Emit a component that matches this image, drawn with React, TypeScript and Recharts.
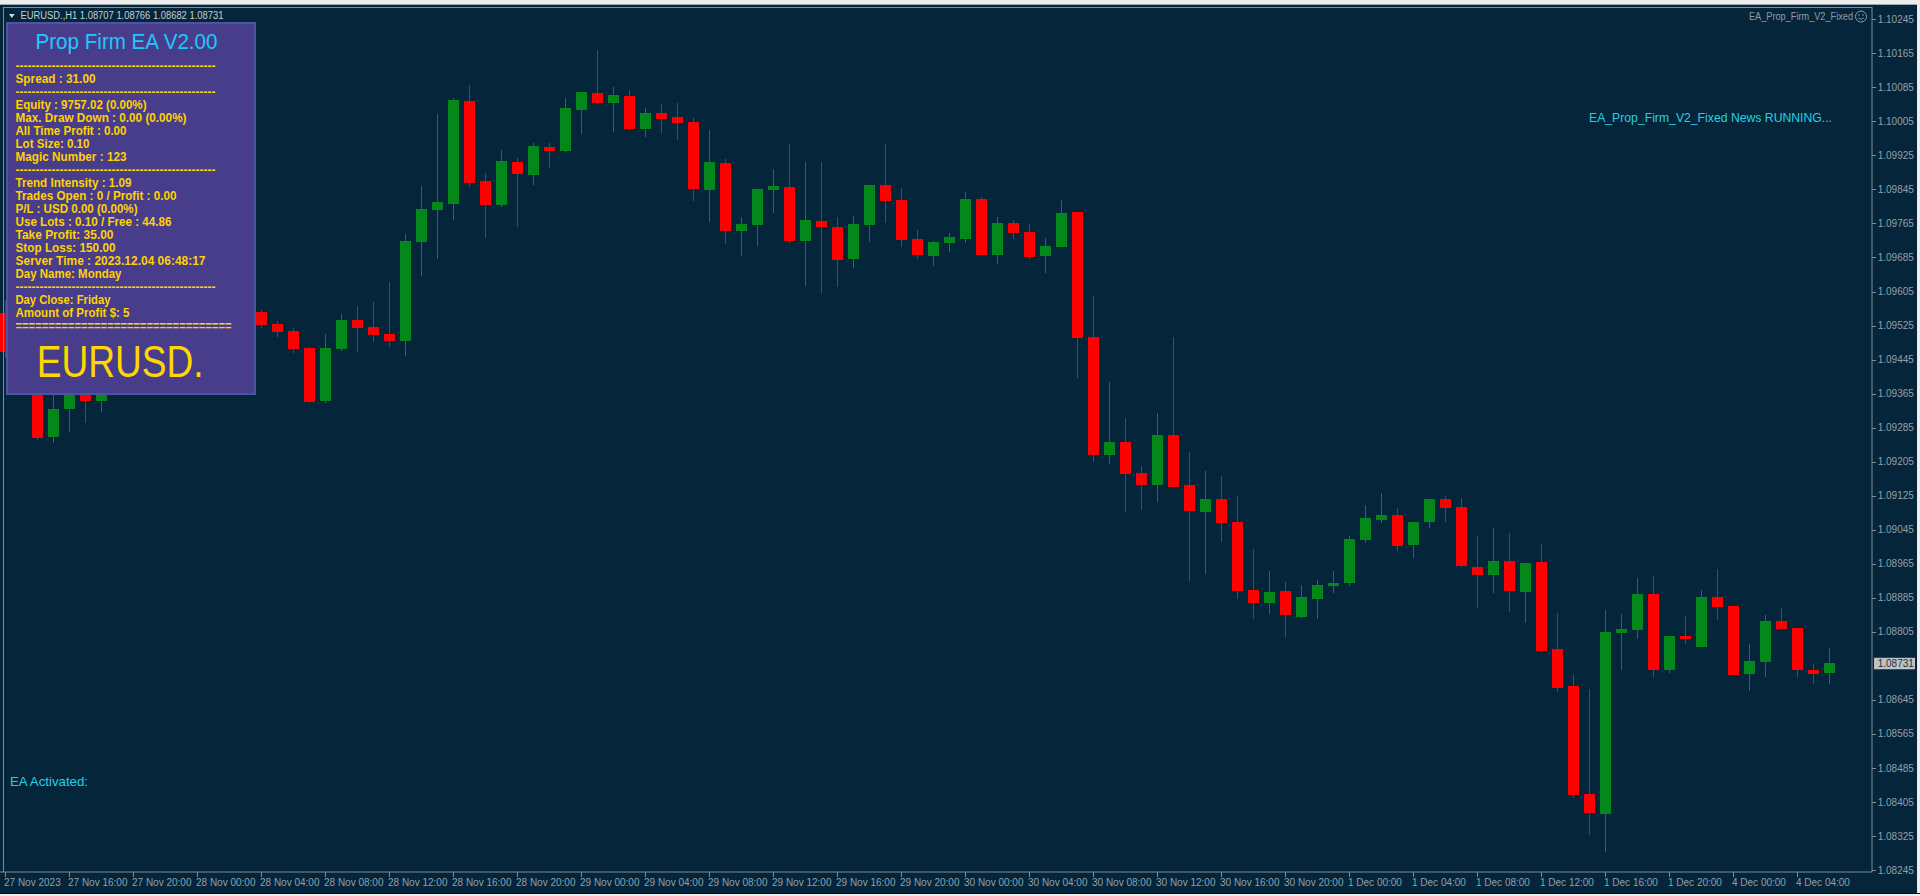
import React from "react";
import { ComposedChart, Bar, XAxis, YAxis, ReferenceLine } from "recharts";

// ---------- data ----------
const times = [
  "27 Nov 12:00", "27 Nov 13:00", "27 Nov 14:00", "27 Nov 15:00", "27 Nov 16:00", "27 Nov 17:00", "27 Nov 18:00", "27 Nov 19:00",
  "27 Nov 20:00", "27 Nov 21:00", "27 Nov 22:00", "27 Nov 23:00",
  "28 Nov 00:00", "28 Nov 01:00", "28 Nov 02:00", "28 Nov 03:00", "28 Nov 04:00", "28 Nov 05:00", "28 Nov 06:00", "28 Nov 07:00",
  "28 Nov 08:00", "28 Nov 09:00", "28 Nov 10:00", "28 Nov 11:00", "28 Nov 12:00", "28 Nov 13:00", "28 Nov 14:00", "28 Nov 15:00",
  "28 Nov 16:00", "28 Nov 17:00", "28 Nov 18:00", "28 Nov 19:00", "28 Nov 20:00", "28 Nov 21:00", "28 Nov 22:00", "28 Nov 23:00",
  "29 Nov 00:00", "29 Nov 01:00", "29 Nov 02:00", "29 Nov 03:00", "29 Nov 04:00", "29 Nov 05:00", "29 Nov 06:00", "29 Nov 07:00",
  "29 Nov 08:00", "29 Nov 09:00", "29 Nov 10:00", "29 Nov 11:00", "29 Nov 12:00", "29 Nov 13:00", "29 Nov 14:00", "29 Nov 15:00",
  "29 Nov 16:00", "29 Nov 17:00", "29 Nov 18:00", "29 Nov 19:00", "29 Nov 20:00", "29 Nov 21:00", "29 Nov 22:00", "29 Nov 23:00",
  "30 Nov 00:00", "30 Nov 01:00", "30 Nov 02:00", "30 Nov 03:00", "30 Nov 04:00", "30 Nov 05:00", "30 Nov 06:00", "30 Nov 07:00",
  "30 Nov 08:00", "30 Nov 09:00", "30 Nov 10:00", "30 Nov 11:00", "30 Nov 12:00", "30 Nov 13:00", "30 Nov 14:00", "30 Nov 15:00",
  "30 Nov 16:00", "30 Nov 17:00", "30 Nov 18:00", "30 Nov 19:00", "30 Nov 20:00", "30 Nov 21:00", "30 Nov 22:00", "30 Nov 23:00",
  "1 Dec 00:00", "1 Dec 01:00", "1 Dec 02:00", "1 Dec 03:00", "1 Dec 04:00", "1 Dec 05:00", "1 Dec 06:00", "1 Dec 07:00",
  "1 Dec 08:00", "1 Dec 09:00", "1 Dec 10:00", "1 Dec 11:00", "1 Dec 12:00", "1 Dec 13:00", "1 Dec 14:00", "1 Dec 15:00",
  "1 Dec 16:00", "1 Dec 17:00", "1 Dec 18:00", "1 Dec 19:00", "1 Dec 20:00", "1 Dec 21:00", "1 Dec 22:00", "1 Dec 23:00",
  "4 Dec 00:00", "4 Dec 01:00", "4 Dec 02:00", "4 Dec 03:00", "4 Dec 04:00", "4 Dec 05:00", "4 Dec 06:00",
];

const opens = [
  1.09554, 1.09462, 1.09397, 1.09263, 1.09328, 1.09385, 1.09347, 1.09397, 1.09432, 1.09415,
  1.09467, 1.09495, 1.09479, 1.09526, 1.0951, 1.09542, 1.09556, 1.09528, 1.09512, 1.09472,
  1.09347, 1.09469, 1.09538, 1.09521, 1.09505, 1.09488, 1.09721, 1.09796, 1.0981, 1.10052,
  1.09864, 1.09808, 1.09909, 1.09879, 1.09944, 1.09935, 1.10031, 1.10071, 1.10048, 1.10064,
  1.09987, 1.10024, 1.10015, 1.10003, 1.09843, 1.09907, 1.09747, 1.09761, 1.09843, 1.0985,
  1.09723, 1.0977, 1.09756, 1.09681, 1.09761, 1.09855, 1.0982, 1.09728, 1.09688, 1.09719,
  1.09728, 1.09822, 1.0969, 1.09766, 1.09745, 1.09688, 1.09709, 1.09792, 1.09498, 1.0922,
  1.09251, 1.09178, 1.0915, 1.09267, 1.0915, 1.09086, 1.09117, 1.09063, 1.08903, 1.08872,
  1.08901, 1.08839, 1.08882, 1.08912, 1.08919, 1.0902, 1.09067, 1.09079, 1.09009, 1.09063,
  1.09117, 1.09098, 1.08957, 1.08938, 1.08971, 1.08898, 1.08969, 1.08764, 1.08677, 1.08423,
  1.08376, 1.08802, 1.08809, 1.08893, 1.08715, 1.08795, 1.08769, 1.08886, 1.08865, 1.08705,
  1.08734, 1.0883, 1.08814, 1.08715, 1.08707,
];

const highs = [
  1.09585, 1.09479, 1.09415, 1.09385, 1.09408, 1.09401, 1.0942, 1.09446, 1.09444, 1.0948,
  1.0951, 1.0951, 1.0954, 1.09542, 1.09549, 1.09566, 1.09561, 1.09535, 1.09519, 1.09474,
  1.09505, 1.09552, 1.09571, 1.0958, 1.09627, 1.0974, 1.09853, 1.10022, 1.1006, 1.1009,
  1.09883, 1.09937, 1.09918, 1.09954, 1.09954, 1.1006, 1.10074, 1.10172, 1.10085, 1.10078,
  1.10036, 1.10045, 1.10048, 1.10013, 1.09984, 1.09916, 1.0978, 1.09846, 1.09893, 1.09951,
  1.09909, 1.09909, 1.0978, 1.09782, 1.09855, 1.09951, 1.09848, 1.09749, 1.09723, 1.09742,
  1.09839, 1.09827, 1.0978, 1.09773, 1.09763, 1.0973, 1.0982, 1.09792, 1.09594, 1.09392,
  1.09307, 1.09194, 1.09319, 1.09498, 1.09227, 1.09183, 1.09171, 1.09124, 1.09, 1.08948,
  1.08922, 1.08915, 1.08926, 1.08948, 1.0903, 1.09103, 1.09131, 1.09096, 1.09063, 1.09117,
  1.09124, 1.09119, 1.0903, 1.09049, 1.09037, 1.08966, 1.09011, 1.08849, 1.08703, 1.0867,
  1.08856, 1.08846, 1.08931, 1.08936, 1.08795, 1.08842, 1.08903, 1.08952, 1.08865, 1.08776,
  1.08844, 1.08861, 1.08814, 1.08729, 1.08766,
];

const lows = [
  1.09448, 1.09373, 1.09256, 1.09249, 1.09274, 1.09296, 1.09321, 1.09383, 1.09401, 1.09406,
  1.09453, 1.09467, 1.09462, 1.09495, 1.09491, 1.09528, 1.09519, 1.09498, 1.0946, 1.09342,
  1.09342, 1.09465, 1.09462, 1.09486, 1.09474, 1.09453, 1.09641, 1.09681, 1.09773, 1.0985,
  1.0973, 1.09803, 1.09756, 1.09855, 1.09895, 1.09933, 1.09975, 1.10045, 1.0998, 1.09984,
  1.09968, 1.09977, 1.09961, 1.09817, 1.09768, 1.09716, 1.09688, 1.09712, 1.09789, 1.09719,
  1.09618, 1.09601, 1.09615, 1.0966, 1.09721, 1.09766, 1.09709, 1.09681, 1.09665, 1.09697,
  1.09719, 1.0969, 1.09669, 1.09728, 1.09681, 1.09648, 1.09709, 1.09401, 1.09204, 1.09199,
  1.09086, 1.09091, 1.0911, 1.09145, 1.08924, 1.08941, 1.09016, 1.08882, 1.08835, 1.08846,
  1.08792, 1.08837, 1.08835, 1.08896, 1.08912, 1.09013, 1.0906, 1.08995, 1.08978, 1.09049,
  1.09063, 1.08957, 1.08861, 1.08896, 1.08851, 1.08825, 1.08757, 1.08663, 1.08414, 1.08327,
  1.08287, 1.08715, 1.08788, 1.08698, 1.08708, 1.08776, 1.08769, 1.08832, 1.08703, 1.08665,
  1.08698, 1.08809, 1.08698, 1.08682, 1.08682,
];

const closes = [
  1.09462, 1.09397, 1.0926, 1.09328, 1.09385, 1.09347, 1.09397, 1.09432, 1.09415, 1.09467,
  1.09495, 1.09479, 1.09526, 1.0951, 1.09542, 1.09556, 1.09526, 1.0951, 1.09469, 1.09345,
  1.09472, 1.09538, 1.09519, 1.09502, 1.09488, 1.09723, 1.09799, 1.09815, 1.10055, 1.0986,
  1.09808, 1.09911, 1.09881, 1.09947, 1.09935, 1.10036, 1.10074, 1.10048, 1.10067, 1.09987,
  1.10024, 1.1001, 1.10001, 1.09846, 1.09909, 1.09747, 1.09763, 1.09846, 1.09853, 1.09723,
  1.09773, 1.09756, 1.09679, 1.09763, 1.09855, 1.09817, 1.09726, 1.0969, 1.09721, 1.09733,
  1.09822, 1.0969, 1.09766, 1.09742, 1.09686, 1.09712, 1.09789, 1.09495, 1.0922, 1.09251,
  1.09176, 1.0915, 1.09267, 1.09145, 1.09089, 1.09117, 1.0906, 1.08901, 1.08872, 1.08898,
  1.08844, 1.08886, 1.08915, 1.08919, 1.09023, 1.09072, 1.09079, 1.09006, 1.09063, 1.09117,
  1.09096, 1.08959, 1.08938, 1.08971, 1.08901, 1.08966, 1.0876, 1.08672, 1.08421, 1.08379,
  1.08804, 1.08811, 1.08893, 1.08715, 1.08795, 1.08788, 1.08886, 1.08863, 1.08703, 1.08736,
  1.0883, 1.08811, 1.08715, 1.08705, 1.08731,
];

const priceTicks = [
  1.10245, 1.10165, 1.10085, 1.10005, 1.09925, 1.09845, 1.09765, 1.09685, 1.09605, 1.09525,
  1.09445, 1.09365, 1.09285, 1.09205, 1.09125, 1.09045, 1.08965, 1.08885, 1.08805, 1.08645,
  1.08565, 1.08485, 1.08405, 1.08325, 1.08245,
];
const firstTickLabel = "27 Nov 2023";
const lastPrice = 1.08731;
const yDomain: [number, number] = [1.082403, 1.102739];

const headerText = "EURUSD.,H1  1.08707 1.08766 1.08682 1.08731";
const panelTitle = "Prop Firm EA V2.00";
const dashes = "--------------------------------------------------";
const equalsLine = "=================================";
const panelLines: { text: string; w: number; base: number }[] = [
  { text: dashes, w: 200, base: 70.3 },
  { text: "Spread : 31.00", w: 80, base: 83.3 },
  { text: dashes, w: 200, base: 96.3 },
  { text: "Equity : 9757.02 (0.00%)", w: 131, base: 109.3 },
  { text: "Max. Draw Down : 0.00 (0.00%)", w: 171, base: 122.3 },
  { text: "All Time Profit : 0.00", w: 111, base: 135.3 },
  { text: "Lot Size: 0.10", w: 74, base: 148.3 },
  { text: "Magic Number : 123", w: 111, base: 161.3 },
  { text: dashes, w: 200, base: 174.3 },
  { text: "Trend Intensity : 1.09", w: 116, base: 187.3 },
  { text: "Trades Open : 0 / Profit : 0.00", w: 161, base: 200.3 },
  { text: "P/L : USD 0.00 (0.00%)", w: 122, base: 213.3 },
  { text: "Use Lots : 0.10 / Free : 44.86", w: 156, base: 226.3 },
  { text: "Take Profit: 35.00", w: 98, base: 239.3 },
  { text: "Stop Loss: 150.00", w: 100, base: 252.3 },
  { text: "Server Time : 2023.12.04 06:48:17", w: 190, base: 265.3 },
  { text: "Day Name: Monday", w: 106, base: 278.3 },
  { text: dashes, w: 200, base: 291.3 },
  { text: "Day Close: Friday", w: 95, base: 304.3 },
  { text: "Amount of Profit $: 5", w: 114, base: 317.3 },
  { text: equalsLine, w: 216, base: 330.3 },
];
const symbolText = "EURUSD.";
const eaName = "EA_Prop_Firm_V2_Fixed";
const newsText = "EA_Prop_Firm_V2_Fixed News RUNNING...";
const activatedText = "EA Activated:";

const data = times.map((t, i) => ({
  time: t,
  open: opens[i],
  high: highs[i],
  low: lows[i],
  close: closes[i],
}));

// ---------- styles ----------
const BG = "#05253A";
const AXIS = "#7B8C99";
const AXIS_TEXT = "#93A0AB";
const UP = "#04881A";
const DOWN = "#FF0000";
const FONT = "'Liberation Sans', Arial, sans-serif";
const NARROW = "'Liberation Sans Narrow', 'Liberation Sans', Arial, sans-serif";

const Candle = (props: any) => {
  const { x, y, width, height, payload } = props;
  if (x == null || y == null || !payload) return null;
  const top = Math.min(y, y + height);
  const h = Math.abs(height);
  const { open, close, high, low } = payload;
  const span = high - low;
  const yOf = (p: number) => (span > 0 ? top + ((high - p) / span) * h : top);
  const up = close >= open;
  const color = up ? UP : DOWN;
  const cx = Math.floor(x + width / 2);
  const bTop = Math.round(yOf(Math.max(open, close)));
  const bBot = Math.round(yOf(Math.min(open, close)));
  const wTop = Math.round(top);
  const wBot = Math.round(top + h);
  return (
    <g shapeRendering="crispEdges">
      <rect x={cx} y={wTop} width={1} height={Math.max(1, wBot - wTop)} fill={color} />
      <rect x={cx - 5} y={bTop} width={11} height={Math.max(1, bBot - bTop)} fill={color} />
    </g>
  );
};

const XTick = (props: any) => {
  const { x, payload } = props;
  const label = payload.value === times[0] ? firstTickLabel : payload.value;
  const px = Math.floor(x);
  return (
    <g>
      <line x1={px + 0.5} x2={px + 0.5} y1={872} y2={877} stroke={AXIS} />
      <text x={px - 1} y={885.5} fontSize={10} fill={AXIS_TEXT} fontFamily={FONT}>
        {label}
      </text>
    </g>
  );
};

const YTick = (props: any) => {
  const { y, payload } = props;
  return (
    <g>
      <line x1={1875} x2={1879} y1={Math.round(y) + 0.5} y2={Math.round(y) + 0.5} stroke={AXIS} />
      <text x={1880.7} y={y + 3.6} fontSize={10} fill={AXIS_TEXT} fontFamily={FONT}>
        {Number(payload.value).toFixed(5)}
      </text>
    </g>
  );
};

const PriceTag = (props: any) => {
  const vb = props.viewBox || {};
  const y = vb.y;
  if (y == null) return null;
  const xr = (vb.x || 0) + (vb.width || 0);
  return (
    <g>
      <rect x={xr + 2} y={y - 5.5} width={41} height={11.5} fill="#BEC2C5" />
      <text x={xr + 5.7} y={y + 3.7} fontSize={10} fill="#1E2E3B" fontFamily={FONT}>
        {lastPrice.toFixed(5)}
      </text>
    </g>
  );
};

export default function App() {
  return (
    <div
      style={{
        position: "fixed",
        left: 0,
        top: 0,
        width: 1920,
        height: 896,
        overflow: "hidden",
        background: BG,
      }}
    >
      <div style={{ position: "absolute", left: -3, top: 0, width: 1923, height: 896 }}>
        <ComposedChart
          width={1923}
          height={896}
          data={data}
          margin={{ top: 7, right: 0, bottom: 0, left: 0 }}
        >
          <XAxis
            dataKey="time"
            height={24}
            interval={3}
            padding={{ left: 0, right: 35 }}
            tickLine={false}
            axisLine={{ stroke: AXIS }}
            tick={<XTick />}
          />
          <YAxis
            orientation="right"
            width={48}
            type="number"
            domain={yDomain}
            allowDataOverflow
            ticks={priceTicks}
            interval={0}
            tickLine={false}
            axisLine={{ stroke: AXIS }}
            tick={<YTick />}
          />
          <Bar
            dataKey={(d: any) => [d.low, d.high]}
            barSize={11}
            shape={<Candle />}
            isAnimationActive={false}
          />
          <ReferenceLine
            y={lastPrice}
            stroke="none"
            strokeWidth={0}
            ifOverflow="visible"
            label={(p: any) => <PriceTag {...p} />}
          />
        </ComposedChart>
      </div>

      <svg
        width={1920}
        height={896}
        style={{ position: "absolute", left: 0, top: 0, pointerEvents: "none" }}
      >
        {/* window frame */}
        <rect x={0} y={0} width={1920} height={4} fill="#EDEDED" />
        <line x1={0} x2={1920} y1={4.5} y2={4.5} fill="none" stroke="#9FA6AD" />
        <line x1={4} x2={1872} y1={7.5} y2={7.5} stroke={AXIS} />
        <line x1={3.5} x2={3.5} y1={7} y2={872} stroke={AXIS} />
        <rect x={1917} y={0} width={3} height={896} fill="#EDEDED" />
        <line x1={0} x2={1920} y1={893.5} y2={893.5} stroke="#101010" />
        <rect x={0} y={894} width={1920} height={2} fill="#EDEDED" />

        {/* header */}
        <polygon points="9,14 14.7,14 11.85,18" fill="#D5D9DD" />
        <text x={20.4} y={19.3} fontSize={10} fill="#C9CFD4" fontFamily={FONT} textLength={203} lengthAdjust="spacingAndGlyphs">
          {headerText}
        </text>

        {/* EA name top-right */}
        <text x={1749} y={19.8} fontSize={10} fill="#8F9CA7" fontFamily={FONT} textLength={104} lengthAdjust="spacingAndGlyphs">
          {eaName}
        </text>
        <circle cx={1861} cy={16.5} r={5.5} fill="none" stroke="#8F9CA7" strokeWidth={1} />
        <circle cx={1859} cy={15} r={0.8} fill="#8F9CA7" />
        <circle cx={1863} cy={15} r={0.8} fill="#8F9CA7" />
        <path d="M1858.3,18 Q1861,20.6 1863.7,18" fill="none" stroke="#8F9CA7" strokeWidth={0.9} />

        {/* info panel */}
        <rect x={7} y={23} width={248} height={371} fill="#483D8B" stroke="#4C55A3" strokeWidth={2} />
        <text x={126.5} y={49.3} fontSize={22} fill="#1EC8FF" fontFamily={FONT} textAnchor="middle" textLength={182} lengthAdjust="spacingAndGlyphs">
          {panelTitle}
        </text>
        {panelLines.map((l, i) => (
          <text
            key={i}
            x={15.5}
            y={l.base}
            fontSize={13}
            fontWeight="bold"
            fill="#FFD200"
            fontFamily={NARROW}
            textLength={l.w}
            lengthAdjust="spacingAndGlyphs"
          >
            {l.text}
          </text>
        ))}
        <text x={36.7} y={376.7} fontSize={44.5} fill="#FFD700" fontFamily={FONT} textLength={167} lengthAdjust="spacingAndGlyphs">
          {symbolText}
        </text>

        {/* status texts */}
        <text x={1589} y={121.5} fontSize={13} fill="#26D0E4" fontFamily={FONT} textLength={243} lengthAdjust="spacingAndGlyphs">
          {newsText}
        </text>
        <text x={10} y={785.5} fontSize={13} fill="#26D0E4" fontFamily={FONT} textLength={78} lengthAdjust="spacingAndGlyphs">
          {activatedText}
        </text>
      </svg>
    </div>
  );
}
